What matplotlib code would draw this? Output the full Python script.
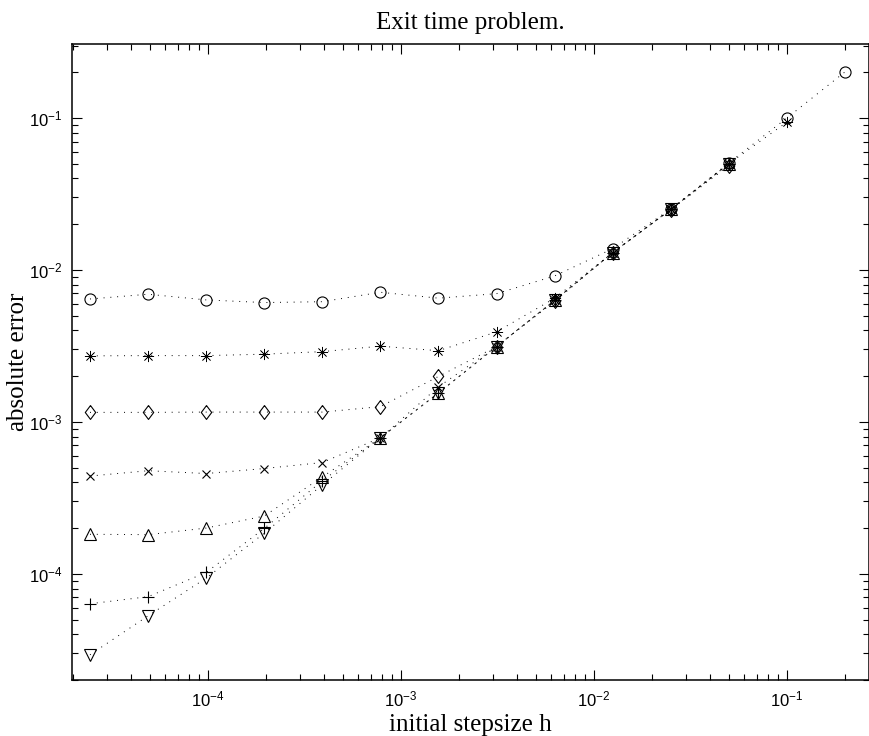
import numpy as np
import matplotlib
matplotlib.use("Agg")
import matplotlib.pyplot as plt
from matplotlib.ticker import LogLocator, NullFormatter

# --- initial stepsizes h (0.2 / 2^k) ---
h = [2.44140625e-05, 4.8828125e-05, 9.765625e-05, 1.953125e-04,
     3.90625e-04, 7.8125e-04, 1.5625e-03, 3.125e-03, 6.25e-03,
     1.25e-02, 2.5e-02, 5e-02, 1e-01, 2e-01]

# --- absolute errors, one list per series (ascending h) ---
err_circle = [6.44e-3, 6.92e-3, 6.35e-3, 6.10e-3, 6.18e-3, 7.13e-3, 6.52e-3,
              6.98e-3, 9.13e-3, 1.38e-2, 2.52e-2, 5.06e-2, 1.00e-1, 2.01e-1]
err_star = [2.72e-3, 2.73e-3, 2.73e-3, 2.79e-3, 2.90e-3, 3.15e-3, 2.94e-3,
            3.91e-3, 6.51e-3, 1.30e-2, 2.50e-2, 5.00e-2, 9.40e-2]
err_diamond = [1.155e-3, 1.155e-3, 1.16e-3, 1.16e-3, 1.16e-3, 1.26e-3, 1.99e-3,
               3.13e-3, 6.20e-3, 1.30e-2, 2.49e-2, 4.85e-2]
err_cross = [4.40e-4, 4.77e-4, 4.57e-4, 4.93e-4, 5.40e-4, 7.85e-4, 1.70e-3,
             3.13e-3, 6.30e-3, 1.30e-2, 2.50e-2, 5.00e-2]
err_tri_up = [1.82e-4, 1.81e-4, 2.00e-4, 2.40e-4, 4.34e-4, 7.85e-4, 1.55e-3,
              3.13e-3, 6.30e-3, 1.30e-2, 2.50e-2, 5.00e-2]
err_plus = [6.35e-5, 7.07e-5, 1.02e-4, 1.99e-4, 4.09e-4, 7.85e-4, 1.55e-3,
            3.13e-3, 6.30e-3, 1.30e-2, 2.50e-2, 5.00e-2]
err_tri_down = [2.93e-5, 5.29e-5, 9.37e-5, 1.85e-4, 3.85e-4, 7.85e-4, 1.55e-3,
                3.13e-3, 6.30e-3, 1.30e-2, 2.50e-2, 5.00e-2]

# --- markers (MATLAB-like) ---
asterisk = (8, 2, 0)
diamond = [(0, 1), (0.75, 0), (0, -1), (-0.75, 0), (0, 1)]

series = [
    (err_circle, "o", 8, 0.8),
    (err_star, asterisk, 8, 0.5),
    (err_diamond, diamond, 10, 0.8),
    (err_cross, "x", 6, 0.8),
    (err_tri_up, "^", 9, 0.8),
    (err_plus, "+", 9, 0.8),
    (err_tri_down, "v", 9, 0.8),
]

plt.rcParams["font.family"] = ["Liberation Sans", "DejaVu Sans"]
plt.rcParams["mathtext.fontset"] = "custom"
plt.rcParams["mathtext.rm"] = "Liberation Sans"
plt.rcParams["mathtext.it"] = "Liberation Sans:italic"

fig = plt.figure(figsize=(8.7, 7.36), dpi=100)
ax = fig.add_axes([0.0828, 0.0761, 0.9162, 0.8641])

for vals, mk, ms, mew in series:
    ax.plot(h[:len(vals)], vals, color="black", linestyle=(0, (1, 6)),
            linewidth=0.7, marker=mk, markersize=ms, markerfacecolor="none",
            markeredgecolor="black", markeredgewidth=mew)

ax.set_xscale("log")
ax.set_yscale("log")
ax.set_xlim(1.97e-5, 0.267)
ax.set_ylim(2.0e-5, 0.307)

for axis in (ax.xaxis, ax.yaxis):
    axis.set_major_locator(LogLocator(base=10, numticks=20))
    axis.set_minor_locator(LogLocator(base=10, subs=np.arange(2, 10), numticks=20))
    axis.set_minor_formatter(NullFormatter())

ax.tick_params(which="both", direction="in", top=True, right=True,
               labelsize=12, width=0.8)
ax.tick_params(which="major", length=7, pad=7)
ax.tick_params(which="minor", length=4)
for sp in ax.spines.values():
    sp.set_linewidth(1.1)

serif = ["Liberation Serif", "DejaVu Serif"]
ax.set_title("Exit time problem.", family=serif, fontsize=18, pad=11)
ax.set_xlabel("initial stepsize h", family=serif, fontsize=18, labelpad=3)
ax.set_ylabel("absolute error", family=serif, fontsize=18, labelpad=0)

fig.savefig("out.png", dpi=100)
